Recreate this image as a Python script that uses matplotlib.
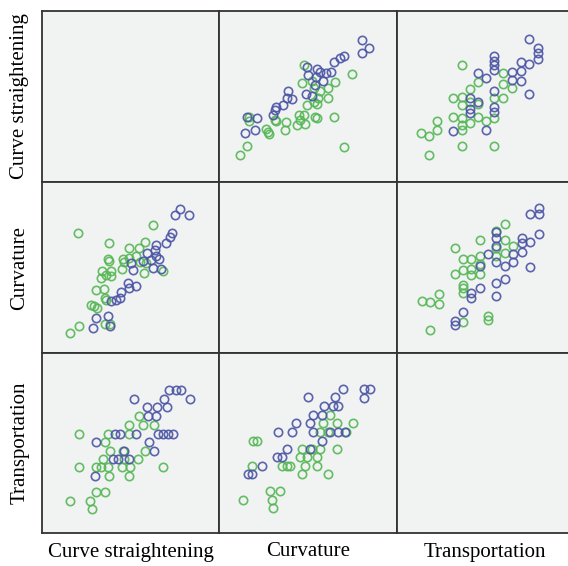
import matplotlib
matplotlib.use("Agg")
import matplotlib.pyplot as plt

variables = ["Curve straightening", "Curvature", "Transportation"]

# Pairwise values (0-100 scale)
# Curve straightening (x) vs Curvature (y)
cs_curv_green_cs = [20.4, 62.9, 37.8, 58.4, 49.1, 54.7, 37.3, 37.8, 45.7, 49.4, 46.6, 53.2, 55.1, 58.8,
                    34.1, 39.1, 36.3, 33.5, 39.1, 45.3, 57.9, 68.2, 30.3, 34.8, 35.4, 36.3, 27.9, 29.2,
                    31.1, 35.4, 38.2, 21.0, 15.7]
cs_curv_green_curv = [70.0, 74.8, 64.5, 64.9, 61.2, 61.2, 54.8, 53.9, 55.0, 55.8, 53.5, 57.0, 53.5, 52.5,
                      48.1, 47.7, 45.7, 43.8, 44.8, 49.2, 46.7, 47.7, 37.0, 37.6, 32.2, 31.2, 28.3, 27.3,
                      26.4, 17.1, 16.7, 15.7, 11.6]
cs_curv_blue_cs = [78.1, 75.3, 83.1, 73.4, 72.3, 70.0, 64.4, 64.0, 59.2, 64.4, 61.6, 66.3, 56.9, 50.4,
                   51.3, 62.5, 67.2, 48.5, 53.2, 49.4, 44.8, 43.8, 41.9, 39.1, 30.7, 37.3, 28.8, 38.2]
cs_curv_blue_curv = [84.1, 80.6, 80.6, 70.0, 68.0, 64.5, 63.2, 60.3, 58.3, 57.0, 54.5, 55.0, 53.9, 52.5,
                     48.6, 50.0, 49.2, 40.9, 39.0, 38.0, 35.9, 32.2, 31.2, 30.6, 20.2, 21.5, 14.7, 15.7]

# Curve straightening (x) vs Transportation (y)
cs_tr_green_cs = [21.0, 54.7, 57.3, 63.5, 49.1, 49.1, 37.3, 35.4, 38.2, 34.5, 33.5, 37.3, 21.0, 30.3,
                  45.7, 46.6, 45.3, 49.8, 49.1, 54.1, 58.4, 68.2, 37.8, 30.7, 35.4, 27.0, 28.5, 15.7]
cs_tr_green_tr = [55.0, 65.2, 60.0, 60.0, 60.0, 55.0, 55.0, 50.4, 45.7, 41.1, 36.5, 36.5, 36.5, 36.5,
                  45.7, 41.1, 36.5, 36.5, 31.9, 41.1, 45.7, 36.5, 31.9, 22.6, 22.6, 18.0, 13.3, 18.0]
cs_tr_blue_cs = [71.9, 75.7, 78.5, 83.5, 69.1, 51.7, 59.2, 64.8, 70.4, 59.7, 64.4, 43.8, 41.0, 53.2,
                 65.4, 68.2, 71.0, 73.8, 60.7, 30.7, 63.5, 40.1, 42.9, 49.4, 46.6, 29.8]
cs_tr_blue_tr = [79.4, 79.4, 79.4, 74.4, 74.4, 74.4, 69.8, 69.8, 69.8, 65.2, 65.2, 55.0, 55.0, 55.0,
                 55.0, 55.0, 55.0, 55.0, 50.4, 50.4, 45.7, 41.1, 41.1, 41.1, 45.7, 31.9]

# Curvature (x) vs Transportation (y)
cu_tr_green_cu = [62.4, 58.6, 66.1, 75.5, 56.7, 61.4, 71.3, 19.3, 21.5, 46.4, 52.1, 56.7, 66.1, 45.5,
                  49.3, 54.9, 35.2, 38.0, 39.9, 48.3, 54.9, 18.4, 46.4, 61.4, 28.7, 34.3, 29.6, 30.5, 13.7]
cu_tr_green_tr = [65.6, 60.9, 60.9, 60.9, 55.9, 55.9, 55.9, 51.3, 51.3, 46.7, 46.7, 46.7, 46.7, 42.0,
                  42.0, 42.0, 37.4, 37.4, 37.4, 37.4, 37.4, 37.4, 32.8, 32.8, 23.5, 23.5, 18.5, 13.9, 18.5]
cu_tr_blue_cu = [81.5, 84.8, 81.5, 69.5, 50.2, 65.2, 59.0, 64.2, 67.0, 53.0, 57.7, 43.3, 51.1, 33.3,
                 40.8, 53.0, 62.4, 67.0, 70.8, 57.7, 38.0, 51.1, 32.4, 35.2, 24.0, 16.5, 18.7]
cu_tr_blue_tr = [80.0, 80.0, 75.0, 80.0, 75.4, 75.4, 70.4, 70.4, 70.4, 65.6, 65.6, 60.9, 60.9, 55.9,
                 55.9, 55.9, 55.9, 55.9, 55.9, 51.3, 46.7, 46.7, 42.0, 42.0, 37.4, 32.8, 32.8]

GREEN = "#55b755"
BLUE = "#4a54a4"

W, H = 568, 566
fig = plt.figure(figsize=(W / 100, H / 100), dpi=100)
fig.patch.set_facecolor("white")

col_edges = [42, 219, 397, 574]
row_edges = [11, 182, 353, 533]

# data per panel: key (row, col) -> list of (x, y, color)
panels = {
    (1, 0): [(cs_curv_green_cs, cs_curv_green_curv, GREEN), (cs_curv_blue_cs, cs_curv_blue_curv, BLUE)],
    (0, 1): [(cs_curv_green_curv, cs_curv_green_cs, GREEN), (cs_curv_blue_curv, cs_curv_blue_cs, BLUE)],
    (2, 0): [(cs_tr_green_cs, cs_tr_green_tr, GREEN), (cs_tr_blue_cs, cs_tr_blue_tr, BLUE)],
    (0, 2): [(cs_tr_green_tr, cs_tr_green_cs, GREEN), (cs_tr_blue_tr, cs_tr_blue_cs, BLUE)],
    (2, 1): [(cu_tr_green_cu, cu_tr_green_tr, GREEN), (cu_tr_blue_cu, cu_tr_blue_tr, BLUE)],
    (1, 2): [(cu_tr_green_tr, cu_tr_green_cu, GREEN), (cu_tr_blue_tr, cu_tr_blue_cu, BLUE)],
}

for r in range(3):
    for c in range(3):
        x0, x1 = col_edges[c], col_edges[c + 1]
        y0, y1 = row_edges[r], row_edges[r + 1]
        ax = fig.add_axes([x0 / W, 1 - y1 / H, (x1 - x0) / W, (y1 - y0) / H])
        ax.set_facecolor("#f1f2f2")
        ax.set_xlim(0, 100)
        ax.set_ylim(0, 100)
        ax.set_xticks([])
        ax.set_yticks([])
        for s in ax.spines.values():
            s.set_color("#333333")
            s.set_linewidth(1.3)
        for xs, ys, col in panels.get((r, c), []):
            ax.plot(xs, ys, linestyle="none", marker="o", markersize=6.0,
                    markerfacecolor="none", markeredgecolor=col, markeredgewidth=1.2, alpha=0.9)

font = ["Liberation Serif", "DejaVu Serif"]
for c in range(3):
    xc = (col_edges[c] + col_edges[c + 1]) / 2
    if c == 2:
        xc = 485
    fig.text(xc / W, 1 - 552 / H, variables[c], ha="center", va="center",
             fontsize=15, family=font)
for r in range(3):
    yc = (row_edges[r] + row_edges[r + 1]) / 2
    fig.text(20 / W, 1 - yc / H, variables[r], ha="center", va="center",
             rotation=90, fontsize=15, family=font)

fig.savefig("out.png", dpi=100, facecolor="white")
